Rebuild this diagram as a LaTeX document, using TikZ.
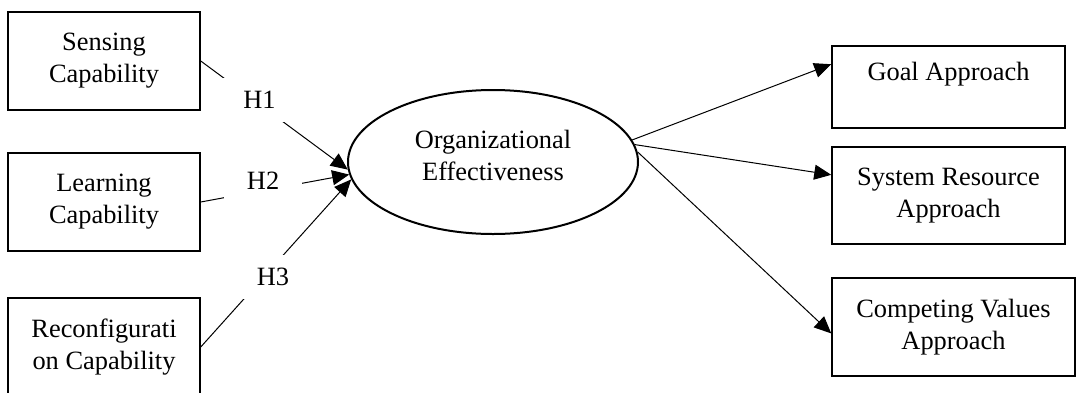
\documentclass[tikz,border=0pt]{standalone}
\usepackage{fontspec}
\setmainfont{Liberation Serif}
\usetikzlibrary{arrows.meta,shapes.geometric}

\begin{document}
\begin{tikzpicture}[x=0.5pt,y=-0.5pt,
    every node/.style={font=\fontsize{13.2pt}{16pt}\selectfont,align=center},
    box/.style={draw,line width=0.75pt,inner sep=0pt,minimum height=49pt},
    hyp/.style={fill=white,minimum width=39pt,minimum height=22pt,inner sep=0pt},
    link/.style={line width=0.5pt,-{Triangle[length=8.5pt,width=7.5pt]}}]
  \useasboundingbox (0,0) rectangle (1077,392);
  \node[box,minimum width=96pt] (sense) at (104,61) {Sensing\\Capability};
  \node[box,minimum width=96pt] (learn) at (104,202) {Learning\\Capability};
  \node[box,minimum width=96pt] (reconf) at (104,347) {Reconfigurati\\on Capability};
  \node[draw,ellipse,line width=1pt,inner sep=0pt,minimum width=145pt,minimum height=72pt,text depth=7pt] (org) at (493,162) {Organizational\\Effectiveness};
  \node[box,minimum width=116.5pt,minimum height=41pt] (goal) at (948.5,87) {Goal Approach\\\mbox{}};
  \node[box,minimum width=116.5pt,minimum height=48.5pt] (sys) at (948.5,195.5) {System Resource\\Approach};
  \node[box,minimum width=121.5pt] (comp) at (953.5,327) {Competing Values\\Approach};
  \draw[link] (sense.east) -- node[hyp,pos=0.4,yshift=2.3pt] {H1} (org.183);
  \draw[link] (learn.east) -- node[hyp,pos=0.42,yshift=5pt] {H2} (org.185);
  \draw[link] (reconf.east) -- node[hyp,pos=0.48,yshift=-5pt] {H3} (org.187);
  \draw[link] (org.9) -- (goal.169);
  \draw[link] (org.7) -- (sys.170);
  \draw[link] (org.4) -- (comp.183);
\end{tikzpicture}
\end{document}
